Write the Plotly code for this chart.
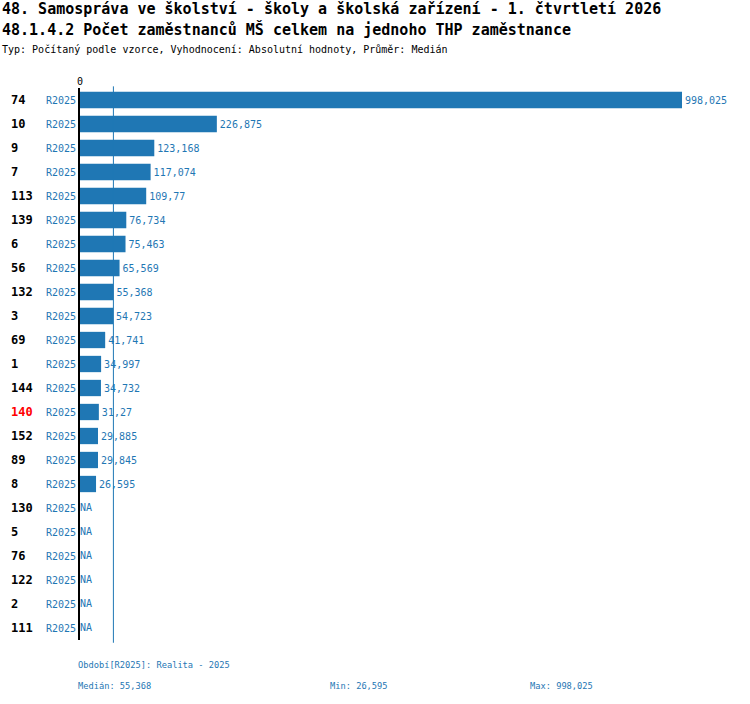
import plotly.graph_objects as go

ids = ["74", "10", "9", "7", "113", "139", "6", "56", "132", "3", "69", "1",
       "144", "140", "152", "89", "8", "130", "5", "76", "122", "2", "111"]
period = "R2025"
values = [998.025, 226.875, 123.168, 117.074, 109.77, 76.734, 75.463, 65.569,
          55.368, 54.723, 41.741, 34.997, 34.732, 31.27, 29.885, 29.845, 26.595,
          None, None, None, None, None, None]
highlight = "140"
median = 55.368
vmin = 26.595
vmax = 998.025

BLUE = "#1f77b4"
FONT = "DejaVu Sans Mono"
PLOT_TOP = 88
PLOT_H = 552
PLOT_W = 650


def cz(v):
    return str(v).replace(".", ",")


rows = list(range(len(ids)))
labels = [cz(v) if v is not None else "" for v in values]
na_rows = [r for r, v in zip(rows, values) if v is None]

fig = go.Figure()
fig.add_trace(go.Bar(
    x=values, y=rows, orientation="h", width=0.68,
    marker=dict(color=BLUE, line=dict(width=0)),
    text=labels, textposition="outside", cliponaxis=False,
    textfont=dict(family=FONT, size=10, color=BLUE),
    hoverinfo="skip",
))
fig.add_trace(go.Scatter(
    x=[0] * len(na_rows), y=na_rows, mode="text", text=["NA"] * len(na_rows),
    textposition="middle right",
    textfont=dict(family=FONT, size=10, color=BLUE), hoverinfo="skip",
))

# median line
fig.add_shape(type="line", x0=median, x1=median, y0=-0.005, y1=1.003, yref="paper",
              line=dict(color=BLUE, width=1))

for r, name in zip(rows, ids):
    fig.add_annotation(
        x=-71 / PLOT_W, xref="paper", y=r, yref="y", xanchor="left",
        text="<b>%s</b>" % name, showarrow=False,
        font=dict(family=FONT, size=12, color="red" if name == highlight else "black"),
    )

titles = [
    ("<b>48. Samospráva ve školství - školy a školská zařízení - 1. čtvrtletí 2026</b>", 15, 9),
    ("<b>48.1.4.2 Počet zaměstnanců MŠ celkem na jednoho THP zaměstnance</b>", 15, 30),
    ("Typ: Počítaný podle vzorce, Vyhodnocení: Absolutní hodnoty, Průměr: Medián", 10, 50),
]
for txt, size, ypx in titles:
    fig.add_annotation(
        x=-80 / PLOT_W, xref="paper", y=1 + (PLOT_TOP - ypx) / PLOT_H, yref="paper",
        xanchor="left", yanchor="middle", text=txt, showarrow=False,
        font=dict(family=FONT, size=size, color="black"),
    )

footer = [
    ("Období[R2025]: Realita - 2025", -4, 665),
    ("Medián: " + cz(median), -4, 686),
    ("Min: " + cz(vmin), 248, 686),
    ("Max: " + cz(vmax), 448, 686),
]
for txt, xpx, ypx in footer:
    fig.add_annotation(
        x=xpx / PLOT_W, xref="paper", y=-(ypx - PLOT_TOP - PLOT_H) / PLOT_H, yref="paper",
        xanchor="left", yanchor="middle", text=txt, showarrow=False,
        font=dict(family=FONT, size=8.7, color=BLUE),
    )

fig.update_layout(
    width=750, height=704,
    margin=dict(l=80, r=20, t=PLOT_TOP, b=704 - PLOT_TOP - PLOT_H),
    plot_bgcolor="white", paper_bgcolor="white",
    showlegend=False,
    font=dict(family=FONT),
)
fig.update_xaxes(
    side="top", range=[0, 1077.6], tickvals=[0], ticktext=["0"],
    showgrid=False, zeroline=False, showline=False, ticks="",
    tickfont=dict(family=FONT, size=10, color="black"),
)
fig.update_yaxes(
    range=[len(ids) - 0.5, -0.5], tickvals=rows, ticktext=[period] * len(ids),
    showgrid=False, zeroline=False, showline=True, linecolor="black", linewidth=2,
    ticks="", tickfont=dict(family=FONT, size=10, color=BLUE),
)

# page without the default body margin so the figure sits at the top-left corner
fig.write_html(
    "out.html",
    config={"displayModeBar": False},
    post_script="document.body.style.margin = '0';",
)
